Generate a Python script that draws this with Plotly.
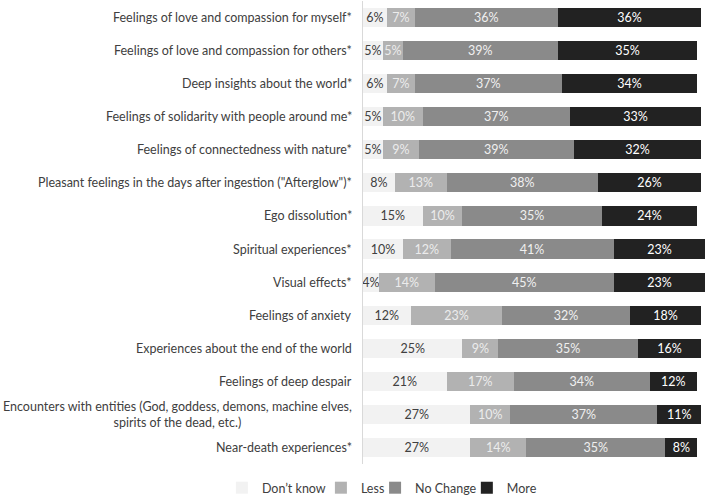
import plotly.graph_objects as go

categories = [
    "Feelings of love and compassion for myself*",
    "Feelings of love and compassion for others*",
    "Deep insights about the world*",
    "Feelings of solidarity with people around me*",
    "Feelings of connectedness with nature*",
    "Pleasant feelings in the days after ingestion (\"Afterglow\")*",
    "Ego dissolution*",
    "Spiritual experiences*",
    "Visual effects*",
    "Feelings of anxiety",
    "Experiences about the end of the world",
    "Feelings of deep despair",
    "Encounters with entities (God, goddess, demons, machine elves,<br>spirits of the dead, etc.)",
    "Near-death experiences*",
]

dont_know = [6, 5, 6, 5, 5, 8, 15, 10, 4, 12, 25, 21, 27, 27]
less = [7, 5, 7, 10, 9, 13, 10, 12, 14, 23, 9, 17, 10, 14]
no_change = [36, 39, 37, 37, 39, 38, 35, 41, 45, 32, 35, 34, 37, 35]
more = [36, 35, 34, 33, 32, 26, 24, 23, 23, 18, 16, 12, 11, 8]

series = [
    ("Don\u2019t know", dont_know, "#f2f2f2", "#404040"),
    ("Less", less, "#b2b2b2", "#ececec"),
    ("No Change", no_change, "#8a8a8a", "#f0f0f0"),
    ("More", more, "#222222", "#ffffff"),
]

FONT = "Lato"
FS = 12.5

# one small legend per series so the entries sit close together like the original
legend_ids = ["legend", "legend2", "legend3", "legend4"]
legend_x = [-0.409, -0.122, 0.035, 0.301]

fig = go.Figure()
for (name, vals, color, tcolor), lid in zip(series, legend_ids):
    fig.add_trace(go.Bar(
        y=categories, x=vals, name=name, orientation="h", legend=lid,
        marker=dict(color=color, line=dict(width=0)),
        text=[f"{v}%" for v in vals], textposition="inside",
        insidetextanchor="middle", textangle=0,
        textfont=dict(color=tcolor, size=FS, family=FONT),
        cliponaxis=False,
    ))

# y-axis labels as centered multi-line annotations
for cat in categories:
    fig.add_annotation(
        x=0, xref="paper", y=cat, yref="y", text=cat, showarrow=False,
        xanchor="right", align="center", xshift=-9,
        font=dict(size=FS, color="#404040", family=FONT),
    )

legend_style = dict(orientation="h", xanchor="left", y=-0.052, yanchor="middle",
                    font=dict(size=FS, color="#404040", family=FONT),
                    itemwidth=30, bgcolor="rgba(0,0,0,0)")

fig.update_layout(
    width=708, height=497,
    barmode="stack", bargap=0.42,
    margin=dict(l=363, r=0, t=1, b=33, autoexpand=False),
    plot_bgcolor="white", paper_bgcolor="white",
    font=dict(family=FONT, size=FS, color="#404040"),
    uniformtext=dict(minsize=FS, mode="show"),
    xaxis=dict(range=[0, 86.7], visible=False, fixedrange=True, automargin=False),
    yaxis=dict(autorange="reversed", showticklabels=False, showline=True,
               linecolor="#d9d9d9", linewidth=1, ticks="", showgrid=False,
               automargin=False),
    showlegend=True,
)
for lid, lx in zip(legend_ids, legend_x):
    fig.update_layout({lid: dict(legend_style, x=lx)})

fig.write_html("out.html", config={"displayModeBar": False},
               post_script="document.body.style.margin='0';")
